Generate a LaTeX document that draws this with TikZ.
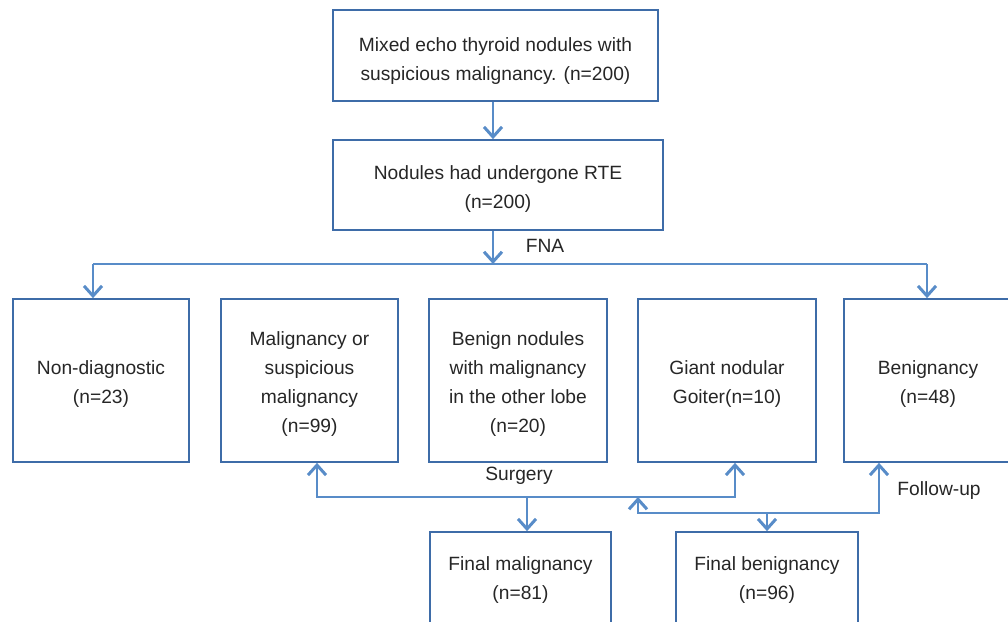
\documentclass[tikz,border=0pt]{standalone}
\usepackage{fontspec}
\setmainfont{Liberation Sans}
\usetikzlibrary{arrows.meta,calc}
\definecolor{boxblue}{RGB}{62,108,168}
\definecolor{arrblue}{RGB}{88,140,200}
\newcommand{\tstrut}[1]{\rule{0pt}{#1}}
\tikzset{
  box/.style={draw=boxblue,line width=1.7pt,rectangle,inner sep=0pt,align=center,
    font=\fontsize{19.2}{29}\selectfont,text=black!85},
  lab/.style={inner sep=0pt,font=\fontsize{19.2}{29}\selectfont,text=black!85},
  conn/.style={draw=arrblue,line width=2.3pt},
  arr/.style={conn,-{Straight Barb[length=10pt,width=18pt,line width=3pt]}},
}
\begin{document}
\begin{tikzpicture}[x=1pt,y=-1pt]
\useasboundingbox (0,0) rectangle (1008,621);
\node[box,minimum width=325pt,minimum height=91pt] (top) at (495.5,55.5)
  {\tstrut{24pt}Mixed echo thyroid nodules with\\suspicious malignancy. (n=200)};
\node[box,minimum width=330pt,minimum height=90pt] (rte) at (498,185)
  {\tstrut{21pt}Nodules had undergone RTE\\(n=200)};
\node[box,minimum width=176pt,minimum height=163pt] (nd) at (101,380.5)
  {\tstrut{20pt}Non-diagnostic\\(n=23)};
\node[box,minimum width=177pt,minimum height=163pt] (mal) at (309.5,380.5)
  {\tstrut{20pt}Malignancy or\\suspicious\\malignancy\\(n=99)};
\node[box,minimum width=178pt,minimum height=163pt] (ben) at (518,380.5)
  {\tstrut{20pt}Benign nodules\\with malignancy\\in the other lobe\\(n=20)};
\node[box,minimum width=178pt,minimum height=163pt] (goi) at (727,380.5)
  {\tstrut{20pt}Giant nodular\\Goiter(n=10)};
\node[box,minimum width=168pt,minimum height=163pt] (bgn) at (928,380.5)
  {\tstrut{20pt}Benignancy\\(n=48)};
\node[box,minimum width=181pt,minimum height=92pt] (fmal) at (520.5,578)
  {\tstrut{18pt}Final malignancy\\(n=81)};
\node[box,minimum width=182pt,minimum height=92pt] (fben) at (767,578)
  {\tstrut{18pt}Final benignancy\\(n=96)};

\node[lab] (fna) at (545,246) {FNA};
\node[lab] (surg) at (519,476) {Surgery};
\node[lab] (fol) at (939,491) {Follow-up};

\coordinate (fnaj) at (493,264);
\coordinate (fnaL) at (93,264);
\coordinate (fnaR) at (927,264);
\coordinate (sj) at (527,497);
\coordinate (sL) at (317,497);
\coordinate (sR) at (735,497);
\coordinate (fL) at (638,513);
\coordinate (fR) at (879,513);
\coordinate (fj) at (767,513);

\draw[arr] (top.south -| fnaj) -- (rte.north -| fnaj);
\draw[arr] (rte.south -| fnaj) -- (fnaj);
\draw[conn] (fnaL) -- (fnaR);
\draw[arr] (fnaL) -- (nd.north -| fnaL);
\draw[arr] (fnaR) -- (bgn.north -| fnaR);

\draw[arr] (sj) -- (sL) -- (mal.south -| sL);
\draw[arr] (sj) -- (sR) -- (goi.south -| sR);
\draw[arr] (sj) -- (fmal.north -| sj);

\draw[arr] (fj) -- (fR) -- (bgn.south -| fR);
\draw[arr] (fj) -- (fL) -- (sj -| fL);
\draw[arr] (fj) -- (fben.north -| fj);
\end{tikzpicture}
\end{document}
